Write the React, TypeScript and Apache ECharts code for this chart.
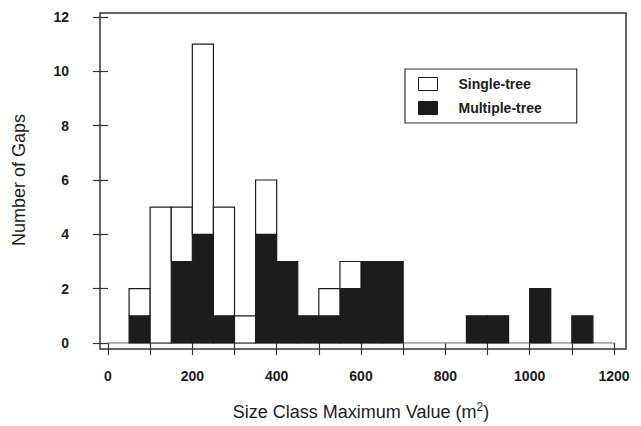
import React, { useEffect, useRef } from "react";
import * as echarts from "echarts";

const binStarts = [50, 100, 150, 200, 250, 300, 350, 400, 450, 500, 550, 600, 650, 700, 750, 800, 850, 900, 950, 1000, 1050, 1100];
const binWidth = 50;
const multipleTree = [1, 0, 3, 4, 1, 0, 4, 3, 1, 1, 2, 3, 3, 0, 0, 0, 1, 1, 0, 2, 0, 1];
const singleTree = [1, 5, 2, 7, 4, 1, 2, 0, 0, 1, 1, 0, 0, 0, 0, 0, 0, 0, 0, 0, 0, 0];
const yTicks = [0, 2, 4, 6, 8, 10, 12];
const xLabelValues = [0, 200, 400, 600, 800, 1000, 1200];

const FONT = "'Liberation Sans', Arial, sans-serif";
const INK = "#1c1c1c";

export default function App() {
  const ref = useRef<HTMLDivElement>(null);
  useEffect(() => {
    if (!ref.current) return;
    const chart = echarts.init(ref.current, undefined, { renderer: "svg" });

    const multData = binStarts.map((s, i) => [s, s + binWidth, 0, multipleTree[i]]);
    const singleData = binStarts.map((s, i) => [s, s + binWidth, multipleTree[i], multipleTree[i] + singleTree[i]]);

    const renderBar = (fill: string) => (params: any, api: any) => {
      const x0 = api.value(0), x1 = api.value(1), y0 = api.value(2), y1 = api.value(3);
      if (y1 <= y0) return null;
      const p0 = api.coord([x0, y1]);
      const p1 = api.coord([x1, y0]);
      return {
        type: "rect",
        shape: { x: p0[0], y: p0[1], width: p1[0] - p0[0], height: p1[1] - p0[1] },
        style: { fill, stroke: INK, lineWidth: 1.2 },
      };
    };

    chart.setOption({
      animation: false,
      backgroundColor: "#fff",
      textStyle: { fontFamily: FONT },
      grid: { left: 108, right: 27, top: 17, bottom: 83 },
      xAxis: {
        type: "value",
        min: 0,
        max: 1200,
        interval: 100,
        offset: 6,
        splitLine: { show: false },
        axisLine: { show: false },
        axisTick: { show: true, length: 12, lineStyle: { color: "#333", width: 1.2 } },
        axisLabel: {
          margin: 20,
          fontFamily: FONT,
          fontSize: 14,
          fontWeight: "bold",
          color: INK,
          formatter: (v: number) => (xLabelValues.indexOf(v) >= 0 ? String(v) : ""),
        },
        name: "Size Class Maximum Value (m{sup|2})",
        nameLocation: "middle",
        nameGap: 52,
        nameTextStyle: {
          fontFamily: FONT,
          fontSize: 18,
          color: INK,
          rich: { sup: { fontSize: 12, verticalAlign: "top", padding: [0, 0, 10, 0], fontFamily: FONT, color: INK } },
        },
      },
      yAxis: {
        type: "value",
        min: yTicks[0],
        max: yTicks[yTicks.length - 1],
        interval: 2,
        offset: 8,
        splitLine: { show: false },
        axisLine: { show: false },
        axisTick: { show: true, length: 15, lineStyle: { color: "#333", width: 1.2 } },
        axisLabel: { margin: 31, fontFamily: FONT, fontSize: 14, fontWeight: "bold", color: INK },
        name: "Number of Gaps",
        nameLocation: "middle",
        nameGap: 72,
        nameTextStyle: { fontFamily: FONT, fontSize: 18, color: INK },
      },
      legend: {
        left: 405,
        top: 69,
        orient: "vertical",
        icon: "rect",
        itemWidth: 19,
        itemHeight: 13,
        itemGap: 10,
        padding: [8, 35, 8, 13],
        borderColor: "#333",
        borderWidth: 1.2,
        textStyle: { fontFamily: FONT, fontSize: 14, fontWeight: "bold", color: INK, padding: [0, 0, 0, 16] },
        data: [
          { name: "Single-tree", itemStyle: { color: "#fff", borderColor: INK, borderWidth: 1 } },
          { name: "Multiple-tree", itemStyle: { color: INK, borderColor: INK, borderWidth: 1 } },
        ],
      },
      graphic: [
        {
          type: "rect",
          shape: { x: 100, y: 13, width: 526, height: 336 },
          style: { fill: "none", stroke: "#333", lineWidth: 1.5 },
          silent: true,
          z: 10,
        },
      ],
      series: [
        {
          type: "line",
          data: [[0, 0], [1200, 0]],
          symbol: "none",
          silent: true,
          lineStyle: { color: "#888", width: 1.5 },
          z: 1,
        },
        {
          name: "Multiple-tree",
          type: "custom",
          renderItem: renderBar(INK),
          encode: { x: [0, 1], y: [2, 3] },
          data: multData,
          itemStyle: { color: INK },
          z: 3,
        },
        {
          name: "Single-tree",
          type: "custom",
          renderItem: renderBar("#fff"),
          encode: { x: [0, 1], y: [2, 3] },
          data: singleData,
          itemStyle: { color: "#fff" },
          z: 3,
        },
      ],
    });
    return () => chart.dispose();
  }, []);
  return <div ref={ref} style={{ position: "absolute", left: 0, top: 0, width: 641, height: 426 }} />;
}
